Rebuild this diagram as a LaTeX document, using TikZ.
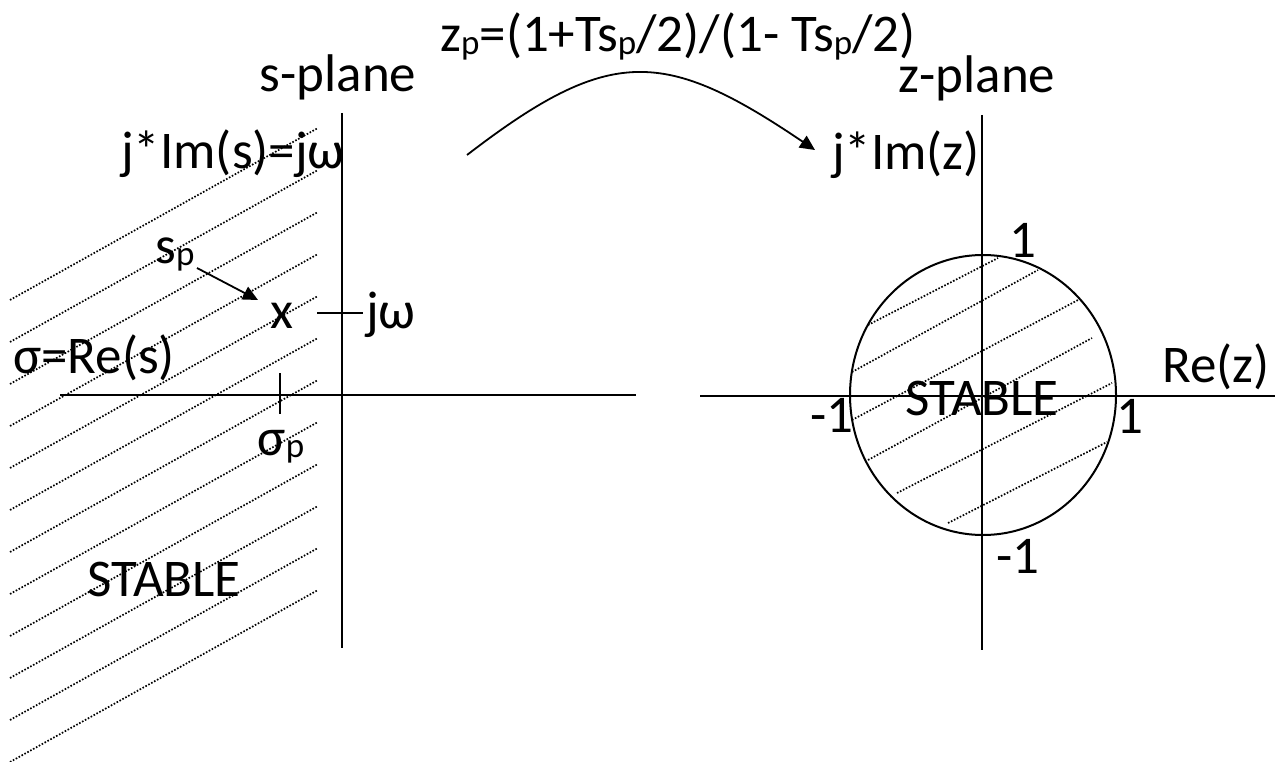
\documentclass[tikz,border=0pt]{standalone}
\usepackage{fontspec}
\setmainfont{Carlito}
\usetikzlibrary{arrows.meta}
\newcommand{\spp}{\raisebox{-0.04em}{\fontsize{35}{35}\selectfont p}}
\begin{document}
\begin{tikzpicture}[x=1pt,y=-1pt,
  lbl/.style={inner sep=0pt, anchor=base, font=\fontsize{53}{63}\selectfont},
  axis/.style={line width=2pt},
  hatch/.style={line width=1.7pt, dash pattern=on 1.6pt off 1.7pt},
  arr/.style={line width=1.8pt, -{Triangle[length=15pt,width=14pt]}}]
\useasboundingbox (0,0) rectangle (1281,762);
% left hatching
\foreach \k in {0,...,11}{
  \draw[hatch] (10,{300+42*\k}) -- (318,{128+42*\k});
}
% s-plane axes
\coordinate (sT) at (342,113);
\coordinate (sB) at (342,648);
\coordinate (sL) at (60,395);
\coordinate (sR) at (636,395);
\draw[axis] (sT) -- (sB);
\draw[axis] (sL) -- (sR);
\coordinate (tw1) at (317,313);
\coordinate (tw2) at (363,313);
\draw[axis] (tw1) -- (tw2);
\coordinate (ts1) at (280,373);
\coordinate (ts2) at (280,414);
\draw[axis] (ts1) -- (ts2);
% z-plane axes
\coordinate (zT) at (982,115);
\coordinate (zB) at (982,650);
\coordinate (zL) at (700,396);
\coordinate (zR) at (1275,396);
\draw[axis] (zT) -- (zB);
\draw[axis] (zL) -- (zR);
\coordinate (cc) at (983,395);
\draw[axis] (cc) ellipse [x radius=133, y radius=140];
% circle hatching
\draw[hatch] (868,325) -- (998,258);
\draw[hatch] (852,372) -- (1038,270);
\draw[hatch] (852,420) -- (1078,300);
\draw[hatch] (868,460) -- (1092,338);
\draw[hatch] (897,493) -- (1112,383);
\draw[hatch] (948,523) -- (1107,442);
% labels
\node[lbl] (eq) at (678,52) {z\spp=(1+Ts\spp/2)/(1- Ts\spp/2)};
\node[lbl] (splane) at (338,92) {s-plane};
\node[lbl] (zplane) at (977,93) {z-plane};
\node[lbl] (ims) at (233,168) {j*Im(s)=jω};
\node[lbl] (imz) at (906,170) {j*Im(z)};
\node[lbl] (res) at (94,373) {σ=Re(s)};
\node[lbl] (rez) at (1216,382) {Re(z)};
\node[lbl] (one1) at (1023,257) {1};
\node[lbl] (one2) at (1130,433) {1};
\node[lbl] (mone1) at (832,432) {-1};
\node[lbl] (mone2) at (1018,573) {-1};
\node[lbl] (stab1) at (164,596) {STABLE};
\node[lbl] (stab2) at (982,415) {STABLE};
\node[lbl] (sigp) at (281,455) {σ\spp};
\node[lbl] (xp) at (282,328) {x};
\node[lbl] (jw) at (391,328) {jω};
\node[lbl] (sp) at (175,263) {s\spp};
% arrows
\coordinate (spa) at (197,268);
\coordinate (spb) at (258,300);
\draw[arr] (spa) -- (spb);
\coordinate (ca) at (467,155);
\coordinate (cb) at (815,150);
\draw[arr] (ca) .. controls (610,45) and (664,48) .. (cb);
\end{tikzpicture}
\end{document}
